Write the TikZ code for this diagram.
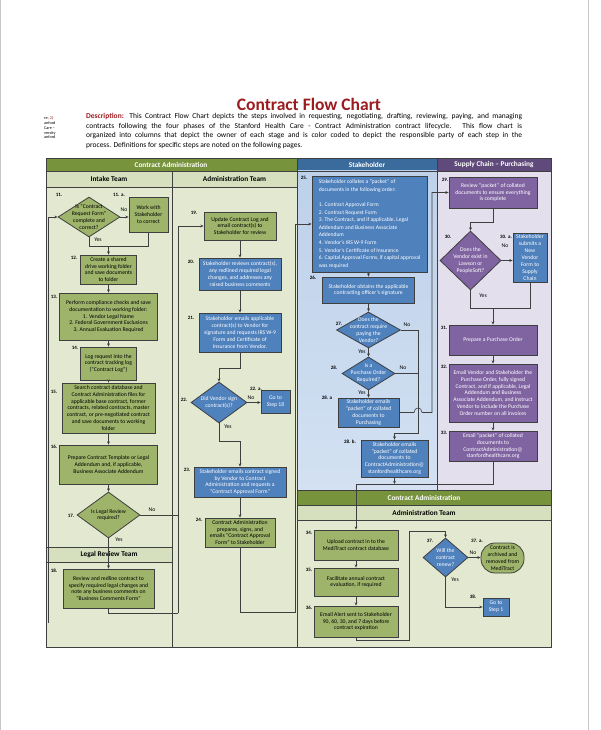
\documentclass[tikz,border=0pt]{standalone}
\usepackage{fontspec}
\setmainfont{Carlito}
\usetikzlibrary{arrows.meta,shapes.geometric}
\definecolor{olv}{HTML}{77933C}
\definecolor{olvsub}{HTML}{D6E0BE}
\definecolor{olvbody}{HTML}{E3E9D1}
\definecolor{olvbox}{HTML}{9DB46A}
\definecolor{bluebox}{HTML}{4F81BD}
\definecolor{bluehead}{HTML}{3A6B9C}
\definecolor{stktop}{HTML}{BDD1EA}
\definecolor{stkbot}{HTML}{D3E1F2}
\definecolor{purhead}{HTML}{604A7B}
\definecolor{purbox}{HTML}{8064A2}
\definecolor{purbody}{HTML}{E4DFEC}
\definecolor{ttlred}{HTML}{9B1B1F}
\definecolor{edge}{HTML}{3F3F3F}
\newcommand\boxfont{\fontsize{5.7}{6.9}\selectfont}
\newcommand\numfont{\fontsize{5}{6}\selectfont\bfseries}
\newcommand\hdrfont{\fontsize{7.3}{8}\selectfont\bfseries}
\tikzset{
 basebox/.style={draw=edge, line width=0.8pt, inner sep=1pt, font=\boxfont, align=center},
 obox/.style={basebox, fill=olvbox, text=black},
 bbox/.style={basebox, fill=bluebox, text=white},
 pbox/.style={basebox, fill=purbox, text=white},
 odia/.style={basebox, shape=diamond, fill=olvbox, inner sep=0pt},
 bdia/.style={basebox, shape=diamond, fill=bluebox, inner sep=0pt},
 pdia/.style={basebox, shape=diamond, fill=purbox, inner sep=0pt},
 dtxt/.style={font=\boxfont, align=center, inner sep=0pt},
 num/.style={font=\numfont, inner sep=0pt},
 yn/.style={font=\boxfont, inner sep=0pt},
 conn/.style={draw=edge, line width=0.6pt},
 arr/.style={conn, -{Stealth[length=3.2pt,width=2.8pt]}},
 frame/.style={draw=edge, line width=0.8pt},
 bandtxt/.style={font=\hdrfont, text=white, inner sep=0pt},
 subtxt/.style={font=\hdrfont, text=black, inner sep=0pt},
}
\begin{document}
\begin{tikzpicture}[x=1pt,y=-1pt]
\useasboundingbox (0,0) rectangle (600,730);
\fill[white] (0,0) rectangle (600,730);
\draw[black!22, line width=1pt] (0.5,0) -- (0.5,730);
\draw[black!22, line width=1pt] (588,0) -- (588,730);

% title and description
\node[font=\fontsize{17.5}{20}\selectfont\bfseries, text=ttlred, inner sep=0pt] (title) at (309,104) {Contract Flow Chart};
\node[anchor=north west, inner sep=0pt, align=left, font=\fontsize{7.5}{9.5}\selectfont] (desc) at (86,113.5) {%
\makebox[436pt][s]{\textcolor{ttlred}{\textbf{Description:}} This Contract Flow Chart depicts the steps involved in requesting, negotiating, drafting, reviewing, paying, and managing}\\
\makebox[436pt][s]{contracts following the four phases of the Stanford Health Care - Contract Administration contract lifecycle. This flow chart is}\\
\makebox[436pt][s]{organized into columns that depict the owner of each stage and is color coded to depict the responsible party of each step in the}\\
process. Definitions for specific steps are noted on the following pages.};
\node[anchor=north west, inner sep=0pt, align=left, font=\fontsize{4.2}{4.8}\selectfont] (marg) at (44,116.5) {re; \textcolor{ttlred}{2)}\\anford\\Care --\\versity\\anford};

% backgrounds
\fill[olvbody] (46,171) rectangle (297,647);
\fill[olv] (46,158) rectangle (297,171);
\fill[olvsub] (46,171) rectangle (297,187);
\fill[olvsub] (46,547) rectangle (172,562);
\fill[bluehead] (297,158) rectangle (437,171);
\shade[top color=stktop, bottom color=stkbot] (297,171) rectangle (437,490);
\fill[purhead] (437,158) rectangle (551,171);
\fill[purbody] (437,171) rectangle (551,490);
\fill[olv] (297,490) rectangle (551,505);
\fill[olvsub] (297,505) rectangle (551,520);
\fill[olvbody] (297,520) rectangle (551,647);
\draw[frame] (46,158) rectangle (297,647);
\draw[frame] (297,158) rectangle (551,647);
\draw[frame] (46,171) -- (551,171);
\draw[frame] (46,187) -- (297,187);
\draw[frame] (172,171) -- (172,647);
\draw[frame] (46,547) -- (172,547) (46,562) -- (172,562);
\draw[frame] (437,158) -- (437,490);
\draw[frame] (297,490) -- (551,490) (297,505) -- (551,505) (297,520) -- (551,520);

% headers
\node[bandtxt] (hCA) at (171,164.5) {Contract Administration};
\node[bandtxt] (hSt) at (367,164.5) {Stakeholder};
\node[bandtxt] (hSC) at (494,164.5) {Supply Chain -- Purchasing};
\node[subtxt] (hIT) at (109,179) {Intake Team};
\node[subtxt] (hAT) at (234.5,179) {Administration Team};
\node[subtxt] (hLR) at (109,554.5) {Legal Review Team};
\node[bandtxt] (hCA2) at (424,497.5) {Contract Administration};
\node[subtxt] (hAT2) at (424,512.5) {Administration Team};

% ---------- Intake column
\node[odia, minimum width=62pt, minimum height=40pt] (d11) at (89,217) {};
\node[dtxt] (d11t) at (d11) {Is ``Contract\\Request Form''\\complete and\\correct?};
\node[obox, minimum width=39pt, minimum height=35pt] (b11a) at (148.5,214.5) {Work with\\Stakeholder\\to correct};
\node[obox, minimum width=56pt, minimum height=29pt, inner sep=0.3pt] (b12) at (108.5,269.5) {Create a shared\\drive working folder\\and save documents\\to folder};
\node[obox, minimum width=98pt, minimum height=47pt] (b13) at (108.5,316.5) {Perform compliance checks and save\\documentation to working folder:\\1. Vendor Legal Name\\2. Federal Government Exclusions\\3. Annual Evaluation Required};
\node[obox, minimum width=56pt, minimum height=33pt] (b14) at (108.5,363.5) {Log request into the\\contract tracking log\\(``Contract Log'')};
\node[obox, minimum width=93pt, minimum height=50pt, inner sep=0.3pt] (b15) at (108.5,408) {Search contract database and\\Contract Administration files for\\applicable base contract, former\\contracts, related contracts, master\\contract, or pre-negotiated contract\\and save documents to working\\folder};
\node[obox, minimum width=98pt, minimum height=39pt] (b16) at (108.5,464.5) {Prepare Contract Template or Legal\\Addendum and, if applicable,\\Business Associate Addendum};
\node[odia, minimum width=63pt, minimum height=46pt] (d17) at (108.5,515) {};
\node[dtxt] (d17t) at (d17) {Is Legal Review\\required?};
\node[obox, minimum width=91pt, minimum height=39pt] (b18) at (108.5,588.5) {Review and redline contract to\\specify required legal changes and\\note any business comments on\\``Business Comments Form''};

% ---------- Administration column
\node[obox, minimum width=72pt, minimum height=28pt] (b19) at (240,226) {Update Contract Log and\\email contract(s) to\\Stakeholder for review};
\node[bbox, minimum width=82pt, minimum height=32pt, inner sep=0.5pt] (b20) at (240,274) {Stakeholder reviews contract(s),\\any redlined required legal\\changes, and addresses any\\raised business comments};
\node[bbox, minimum width=82pt, minimum height=39pt, inner sep=0.5pt] (b21) at (240,332.5) {Stakeholder emails applicable\\contract(s) to Vendor for\\signature and requests IRS W-9\\Form and Certificate of\\Insurance from Vendor.};
\node[bdia, minimum width=56pt, minimum height=41pt] (d22) at (219,402.5) {};
\node[dtxt, text=white] (d22t) at (d22) {Did Vendor sign\\contract(s)?};
\node[bbox, minimum width=29pt, minimum height=23pt, inner sep=0.5pt] (b22a) at (275.5,401.5) {Go to\\Step 18};
\node[bbox, minimum width=92pt, minimum height=30pt, inner sep=0.3pt] (b23) at (240,482) {Stakeholder emails contract signed\\by Vendor to Contract\\Administration and requests a\\``Contract Approval Form''};
\node[obox, minimum width=70pt, minimum height=29pt, inner sep=0.3pt] (b24) at (240,532.5) {Contract Administration\\prepares, signs, and\\emails ``Contract Approval\\Form'' to Stakeholder};

% ---------- Stakeholder column
\node[bbox, minimum width=115pt, minimum height=96pt, align=left, font=\fontsize{5.6}{7.6}\selectfont] (b25) at (369.5,224) {Stakeholder collates a ``packet'' of\\documents in the following order:\\~\\1. Contract Approval Form\\2. Contract Request Form\\3. The Contract, and if applicable, Legal\\Addendum and Business Associate\\Addendum\\4. Vendor's IRS W-9 Form\\5. Vendor's Certificate of Insurance\\6. Capital Approval Forms, if capital approval\\was required};
\node[bbox, minimum width=92pt, minimum height=26pt] (b26) at (368.5,290) {Stakeholder obtains the applicable\\contracting officer's signature};
\node[bdia, minimum width=64pt, minimum height=36pt] (d27) at (368.5,330) {};
\node[dtxt, text=white] (d27t) at (d27) {Does the\\contract require\\paying the\\Vendor?};
\node[bdia, minimum width=53pt, minimum height=33pt] (d28) at (368.5,373.5) {};
\node[dtxt, text=white] (d28t) at (d28) {Is a\\Purchase Order\\Required?};
\node[bbox, minimum width=61pt, minimum height=29pt, inner sep=0.3pt] (b28a) at (368.5,412.5) {Stakeholder emails\\``packet'' of collated\\documents to\\Purchasing};
\node[bbox, minimum width=67pt, minimum height=37pt, inner sep=0.3pt] (b28b) at (394.5,458.5) {Stakeholder emails\\``packet'' of collated\\documents to\\ContractAdministration@\\stanfordhealthcare.org};

% ---------- Supply chain column
\node[pbox, minimum width=88pt, minimum height=31pt] (b29) at (493,192.5) {Review ``packet'' of collated\\documents to ensure everything\\is complete};
\node[pdia, minimum width=61pt, minimum height=59pt] (d30) at (470.5,260.5) {};
\node[dtxt, text=white] (d30t) at (d30) {Does the\\Vendor exist in\\Lawson or\\PeopleSoft?};
\node[bbox, minimum width=34pt, minimum height=49pt, inner sep=0.2pt] (b30a) at (530,257.5) {Stakeholder\\submits a\\New\\Vendor\\Form to\\Supply\\Chain};
\node[pbox, minimum width=88pt, minimum height=30pt] (b31) at (493,340) {Prepare a Purchase Order};
\node[pbox, minimum width=88pt, minimum height=58pt] (b32) at (493,393) {Email Vendor and Stakeholder the\\Purchase Order, fully signed\\Contract, and if applicable, Legal\\Addendum and Business\\Associate Addendum, and instruct\\Vendor to include the Purchase\\Order number on all invoices};
\node[pbox, minimum width=88pt, minimum height=30pt, inner sep=0.3pt] (b33) at (493,446) {Email ``packet'' of collated\\documents to\\ContractAdministration@\\stanfordhealthcare.org};

% ---------- Bottom administration
\node[obox, minimum width=84pt, minimum height=30pt] (b34) at (356,545) {Upload contract in to the\\MediTract contract database};
\node[obox, minimum width=84pt, minimum height=28pt] (b35) at (356,582) {Facilitate annual contract\\evaluation, if required};
\node[obox, minimum width=84pt, minimum height=31pt] (b36) at (356,621.5) {Email Alert sent to Stakeholder\\90, 60, 30, and 7 days before\\contract expiration};
\node[bdia, minimum width=45pt, minimum height=39pt] (d37) at (445.5,557.5) {};
\node[dtxt, text=white] (d37t) at (d37) {Will the\\contract\\renew?};
\node[obox, rounded corners=14pt, minimum width=43pt, minimum height=30pt, inner sep=0.2pt] (t37a) at (502.5,558) {Contract is\\archived and\\removed from\\MediTract};
\node[bbox, minimum width=26pt, minimum height=18pt, inner sep=0.5pt] (b38) at (496,607) {Go to\\Step 1};

% ---------- step numbers
\node[num] (n11) at (59,195) {11.};
\node[num] (n11a) at (119,195) {11. a.};
\node[num] (n12) at (74,258) {12.};
\node[num] (n13) at (54,297) {13.};
\node[num] (n14) at (75,348) {14.};
\node[num] (n15) at (54,392) {15.};
\node[num] (n16) at (54,447) {16.};
\node[num] (n17) at (71,516) {17.};
\node[num] (n18) at (54,571) {18.};
\node[num] (n19) at (194,213) {19.};
\node[num] (n20) at (191,262) {20.};
\node[num] (n21) at (191,318) {21.};
\node[num] (n22) at (184,400) {22.};
\node[num] (n22a) at (256,389) {22. a.};
\node[num] (n23) at (187,470) {23.};
\node[num] (n24) at (199,520) {24.};
\node[num] (n25) at (304,178) {25.};
\node[num] (n26) at (313,278) {26.};
\node[num] (n27) at (339,324) {27.};
\node[num] (n28) at (334,368) {28.};
\node[num] (n28a) at (327,398) {28. a};
\node[num] (n28b) at (350,442) {28. b.};
\node[num] (n29) at (445,180) {29.};
\node[num] (n30) at (448,237) {30.};
\node[num] (n30a) at (506,237) {30. a.};
\node[num] (n31) at (444,328) {31.};
\node[num] (n32) at (444,367) {32.};
\node[num] (n33) at (444,433) {33.};
\node[num] (n34) at (309,533) {34.};
\node[num] (n35) at (309,570) {35.};
\node[num] (n36) at (309,608) {36.};
\node[num] (n37) at (430,541) {37.};
\node[num] (n37a) at (477,541) {37. a.};
\node[num] (n38) at (473,597) {38.};

% ---------- yes / no
\node[yn] (y11) at (98,240) {Yes};
\node[yn] (no11) at (124,210) {No};
\node[yn] (no17) at (152,510) {No};
\node[yn] (y17) at (119,540) {Yes};
\node[yn] (no22) at (251,398) {No};
\node[yn] (y22) at (228,427) {Yes};
\node[yn] (no27) at (407,325) {No};
\node[yn] (y27) at (362,352) {Yes};
\node[yn] (no28) at (403,368) {No};
\node[yn] (y28) at (362,393) {Yes};
\node[yn] (no30) at (505,246) {No};
\node[yn] (y30) at (483,296) {Yes};
\node[yn] (no37) at (473,553) {No};
\node[yn] (y37) at (455,580) {Yes};

% ---------- connectors
\coordinate (L0) at (48,623);
\draw[arr] (L0) |- (d11.west);
\draw[arr] (d11.east) -- (d11.east -| b11a.west);
\coordinate (j1) at (108.5,246);
\draw[conn] (d11.south) |- (j1);
\draw[conn] (b11a.south) |- (j1);
\draw[arr] (j1) -- (b12.north);
\draw[arr] (b12) -- (b13);
\draw[arr] (b13) -- (b14);
\draw[arr] (b14) -- (b15);
\draw[arr] (b15) -- (b16);
\draw[arr] (b16) -- (d17);
\draw[arr] (d17.south) -- (b18.north);
\coordinate (j2) at (178,613);
\draw[conn] (d17.east) -- (d17.east -| j2);
\draw[conn] (b18.south) |- (j2);
\draw[arr] (j2) |- (b19.west);
\draw[arr] (b19) -- (b20);
\draw[arr] (b20) -- (b21);
\draw[arr] (b21.south) -- ++(0,16) -| (d22.north);
\draw[arr] (d22.east) -- (d22.east -| b22a.west);
\coordinate (j3) at (240,441);
\draw[arr] (d22.south) |- (j3) -- (b23.north);
\draw[arr] (b23) -- (b24);
\coordinate (j4) at (295,612);
\draw[arr] (b24.south) |- (j4) |- (b25.west);
\draw[arr] (b25.south -| b26.north) -- (b26.north);
\draw[arr] (b26) -- (d27);
\draw[arr] (d27.south) -- (d28.north);
\draw[arr] (d28.south) -- (b28a.north);
\coordinate (j5) at (418,433);
\draw[arr] (d27.east) -| (j5) -| (b28b.north);
\draw[conn] (d28.east) -- (d28.east -| j5);
\draw[arr] (b28a.east) -- (414,412.5) .. controls (414,406.5) and (422,406.5) .. (422,412.5) -- (432,412.5) |- (b29.west);
\coordinate (c29) at (493,222);
\draw[arr] (b29.south) -- (c29) -| (d30.north);
\draw[arr] (d30.east) -- (d30.east -| b30a.west);
\coordinate (j6) at (493,308);
\draw[conn] (d30.south) |- (j6);
\draw[conn] (b30a.south) |- (j6);
\draw[arr] (j6) -- (b31.north);
\draw[arr] (b31) -- (b32);
\draw[arr] (b32) -- (b33);
\coordinate (j7) at (356,484);
\draw[arr] (b33.south) |- (j7) -- (b34.north);
\draw[arr] (b28b.south) -- (b28b.south |- j7);
\draw[arr] (b34) -- (b35);
\draw[arr] (b35) -- (b36);
\coordinate (j8) at (409,640);
\coordinate (j9) at (409,531);
\draw[arr] (b36.south) |- (j8) -- (j9) -| (d37.north);
\draw[arr] (d37.east) -- (d37.east -| t37a.west);
\draw[arr] (d37.south) |- (b38.west);
\end{tikzpicture}
\end{document}
